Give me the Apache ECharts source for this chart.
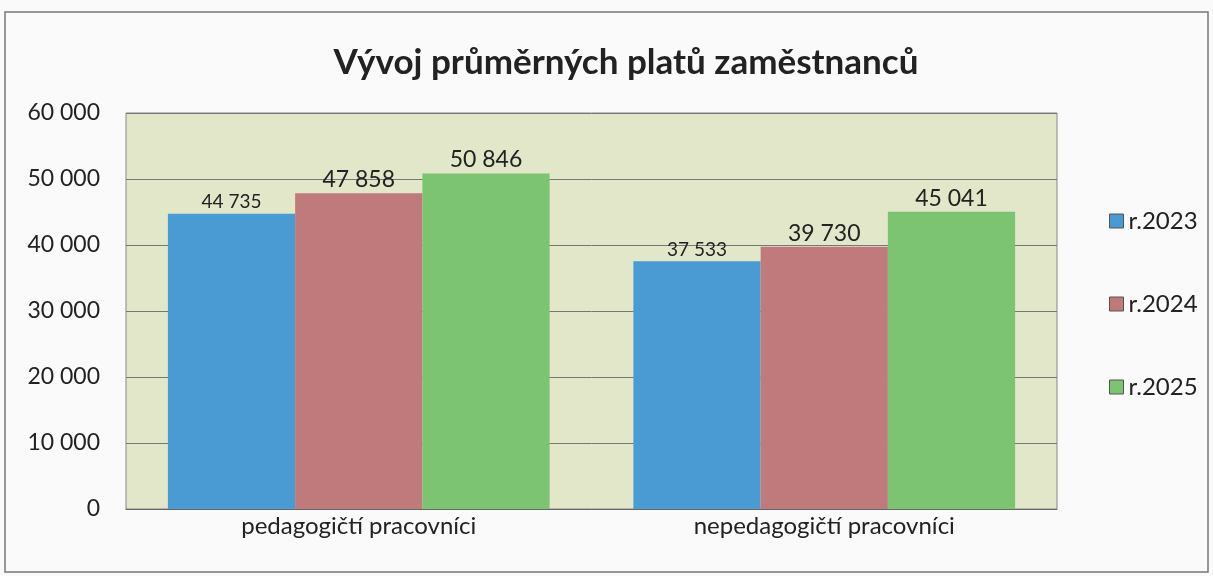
<!DOCTYPE html>
<html><head><meta charset="utf-8">
<script src="https://cdn.jsdelivr.net/npm/echarts@6/dist/echarts.min.js"></script>
<style>html,body{margin:0;padding:0;background:#fafafa;}#c{width:1213px;height:576px;}</style>
</head><body><div id="c"></div>
<script>
const categories = ['pedagogičtí pracovníci', 'nepedagogičtí pracovníci'];
const seriesNames = ['r.2023', 'r.2024', 'r.2025'];
const values2023 = [44735, 37533];
const values2024 = [47858, 39730];
const values2025 = [50846, 45041];
const colors = ['#4a9bd3', '#c07a7b', '#7cc472'];
const fmt = v => String(v).replace(/\B(?=(\d{3})+(?!\d))/g, ' ');
const font = 'Lato, "Open Sans", sans-serif';
const chart = echarts.init(document.getElementById('c'));
const data = [values2023, values2024, values2025];
chart.setOption({
  backgroundColor: '#fafafa',
  animation: false,
  title: { text: 'Vývoj průměrných platů zaměstnanců', left: 621, top: 40, textAlign: 'center',
    textStyle: { fontFamily: font, fontSize: 35, fontWeight: 'bold', color: '#222' } },
  graphic: [{ type: 'rect', shape: { x: 5, y: 12, width: 1203, height: 560 }, silent: true,
    style: { fill: 'none', stroke: '#777', lineWidth: 1.5 } }],
  grid: { left: 126, right: 156, top: 113, bottom: 67, show: true, backgroundColor: '#e2e7c9', borderColor: '#888', borderWidth: 1 },
  legend: { orient: 'vertical', left: 1104, top: 204, itemGap: 59, itemWidth: 14, itemHeight: 14, icon: 'rect',
    textStyle: { fontFamily: font, fontSize: 24, color: '#222' },
    data: seriesNames.map((n, i) => ({ name: n, itemStyle: { color: colors[i], borderColor: '#555', borderWidth: 1 } })) },
  xAxis: { type: 'category', data: categories, axisTick: { show: false },
    axisLine: { lineStyle: { color: '#666' } },
    axisLabel: { fontFamily: font, fontSize: 24, color: '#222', margin: 5 } },
  yAxis: { type: 'value', min: 0, max: 60000, interval: 10000,
    axisLine: { show: false }, axisTick: { show: false },
    splitLine: { lineStyle: { color: '#777', width: 1 } },
    axisLabel: { fontFamily: font, fontSize: 23, color: '#222', margin: 26, formatter: fmt } },
  series: data.map((d, i) => ({
    name: seriesNames[i], type: 'bar', data: d, barGap: '0%', barCategoryGap: '18%',
    itemStyle: { color: colors[i] },
    label: { show: true, position: 'top', distance: 2, formatter: p => fmt(p.value),
      fontFamily: font, fontSize: i === 0 ? 19 : 23, color: '#222' }
  }))
});
</script></body></html>
